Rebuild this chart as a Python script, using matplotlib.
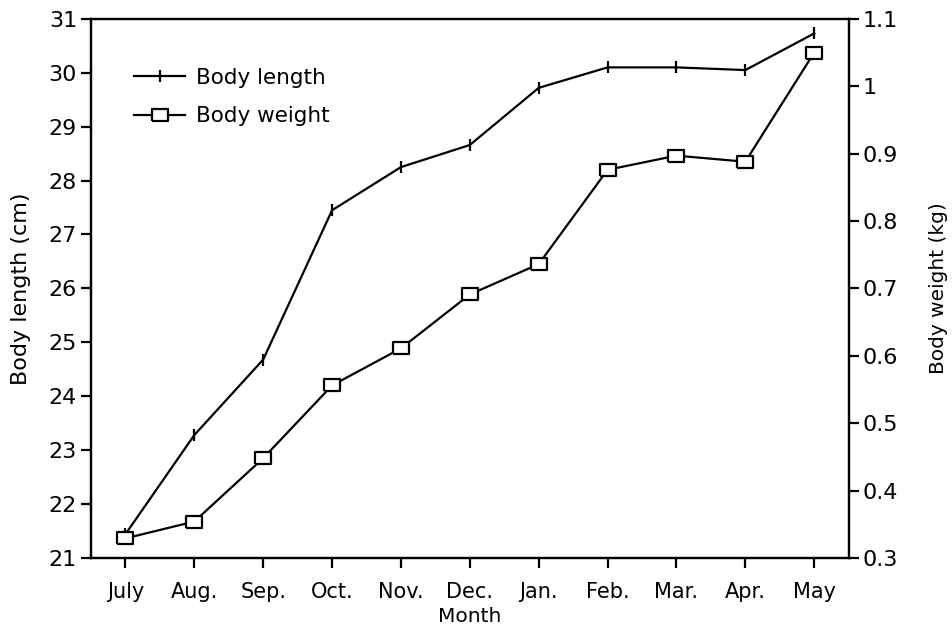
import matplotlib.pyplot as plt
from matplotlib.ticker import FixedLocator

months = ["July", "Aug.", "Sep.", "Oct.", "Nov.", "Dec.", "Jan.", "Feb.", "Mar.", "Apr.", "May"]
body_length = [21.44, 23.28, 24.68, 27.45, 28.25, 28.66, 29.72, 30.10, 30.10, 30.05, 30.73]
body_weight = [0.329, 0.354, 0.448, 0.556, 0.611, 0.691, 0.736, 0.876, 0.897, 0.888, 1.05]

length_ticks = [21, 22, 23, 24, 25, 26, 27, 28, 29, 30, 31]
weight_ticks = [0.3, 0.4, 0.5, 0.6, 0.7, 0.8, 0.9, 1.0, 1.1]
weight_tick_labels = ["0.3", "0.4", "0.5", "0.6", "0.7", "0.8", "0.9", "1", "1.1"]

plt.rcParams['font.family'] = ['DejaVu Sans']

fig = plt.figure(figsize=(9.53, 6.29), dpi=100)
ax = fig.add_axes([0.0955, 0.113, 0.795, 0.857])
ax2 = ax.twinx()

x = list(range(len(months)))

# wide open box for the weight marker
box = [(-1.5, -1), (1.5, -1), (1.5, 1), (-1.5, 1), (-1.5, -1)]

l1, = ax.plot(x, body_length, color='black', lw=1.6, marker='|', markersize=9,
              markeredgewidth=1.6, label="Body length")
l2, = ax2.plot(x, body_weight, color='black', lw=1.6, marker=box, markersize=12,
               markerfacecolor='white', markeredgewidth=1.6, label="Body weight")

ax.set_xlim(-0.5, 10.5)
ax.set_ylim(21, 31)
ax2.set_ylim(0.3, 1.1)
ax.set_xticks(x)
ax.set_xticklabels(months, fontsize=15)
ax.yaxis.set_major_locator(FixedLocator(length_ticks))
ax.set_yticklabels([str(t) for t in length_ticks], fontsize=16)
ax2.yaxis.set_major_locator(FixedLocator(weight_ticks))
ax2.set_yticklabels(weight_tick_labels, fontsize=16)

for a in (ax, ax2):
    for s in a.spines.values():
        s.set_linewidth(1.6)
    a.tick_params(direction='out', length=7, width=1.6, pad=3)
ax.tick_params(axis='x', pad=10)

ax.set_xlabel("Month", fontsize=14.5, labelpad=4)
ax.set_ylabel("Body length (cm)", fontsize=16)
ax2.set_ylabel("Body weight (kg)", fontsize=14.5)
ax.yaxis.set_label_coords(-0.079, 0.5)
ax2.yaxis.set_label_coords(1.106, 0.5)

ax.legend(handles=[l1, l2], loc='upper left', bbox_to_anchor=(0.045, 0.925), frameon=False,
          fontsize=15.5, handlelength=2.4, handletextpad=0.5, labelspacing=0.85,
          borderaxespad=0)

fig.savefig("out.png", dpi=100)
